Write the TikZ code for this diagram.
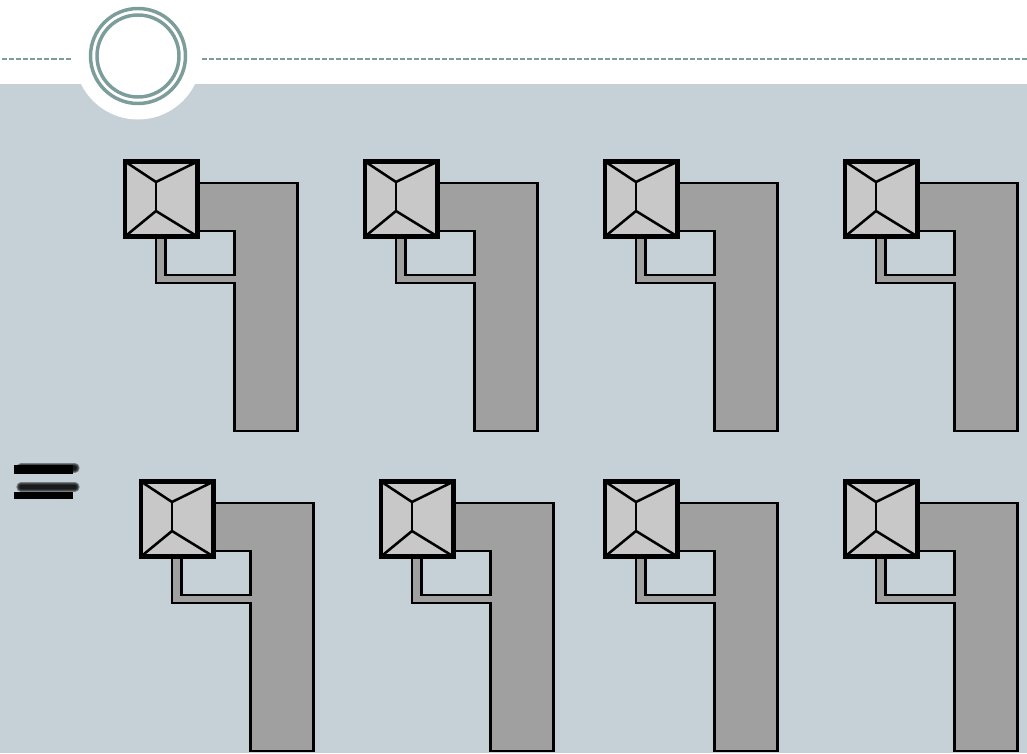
\documentclass[tikz,border=0pt]{standalone}
\usepackage{tikz}
\definecolor{SlideBack}{RGB}{197,208,215}
\definecolor{RingTeal}{RGB}{124,157,154}
\definecolor{WallGrey}{RGB}{160,160,160}
\definecolor{BoxGrey}{RGB}{200,200,200}
\tikzset{
  wall/.style={fill=WallGrey,draw=black,line width=2pt,line join=miter},
  boxface/.style={fill=BoxGrey,draw=black,line width=3.6pt,line join=miter},
  boxedge/.style={draw=black,line width=1.9pt},
  ring/.style={draw=RingTeal,line width=2.6pt},
  rule/.style={draw=RingTeal,line width=0.9pt,dash pattern=on 3.8pt off 1.5pt},
  smear/.style={black,opacity=0.4,line cap=round},
}
\newcommand{\cornerunit}[2]{%
  \begin{scope}[shift={(#1,#2)}]
    \draw[wall] (198,183)--(297.5,183)--(297.5,431)--(234.5,431)--(234.5,283)--(156,283)--(156,237)
      --(165.5,237)--(165.5,275)--(234.5,275)--(234.5,231)--(198,231)--cycle;
    \draw[boxface] (125,161.5) rectangle (197.5,236.5);
    \draw[boxedge] (125,161.5)--(156,182)--(197.5,161.5);
    \draw[boxedge] (125,236.5)--(156,211)--(197.5,236.5);
    \draw[boxedge] (156,182)--(156,211);
  \end{scope}}
\newcommand{\smearbar}[3]{%
  \draw[smear,line width=7pt] (#1,#3)--(#2,#3);
  \draw[smear,line width=5.5pt] (#1,#3)--(#2,#3);
  \draw[smear,line width=4pt] (#1,#3)--(#2,#3);
  \draw[smear,line width=2.5pt] (#1,#3)--(#2,#3);}
\begin{document}
\begin{tikzpicture}[x=0.75pt,y=-0.75pt]
  \useasboundingbox (0,0) rectangle (1027,753);
  \fill[white] (0,0) rectangle (1027,84);
  \fill[SlideBack] (0,84) rectangle (1027,753);
  % top band
  \fill[white] (138,56) circle (63.5);
  \draw[rule] (2,59)--(72,59);
  \draw[rule] (202,59)--(1027,59);
  \draw[ring] (138,56) circle (47.5);
  \draw[ring] (138,56) circle (41);
  % units
  \foreach \xa in {0,240,480,720} {\cornerunit{\xa}{0}}
  \foreach \xb in {16,256,480,720} {\cornerunit{\xb}{320}}
  % equals
  \smearbar{21}{75}{468}
  \smearbar{21}{75}{487}
  \fill[black] (14,465) rectangle (73,474);
  \fill[black] (14,492) rectangle (73,499);
\end{tikzpicture}
\end{document}
